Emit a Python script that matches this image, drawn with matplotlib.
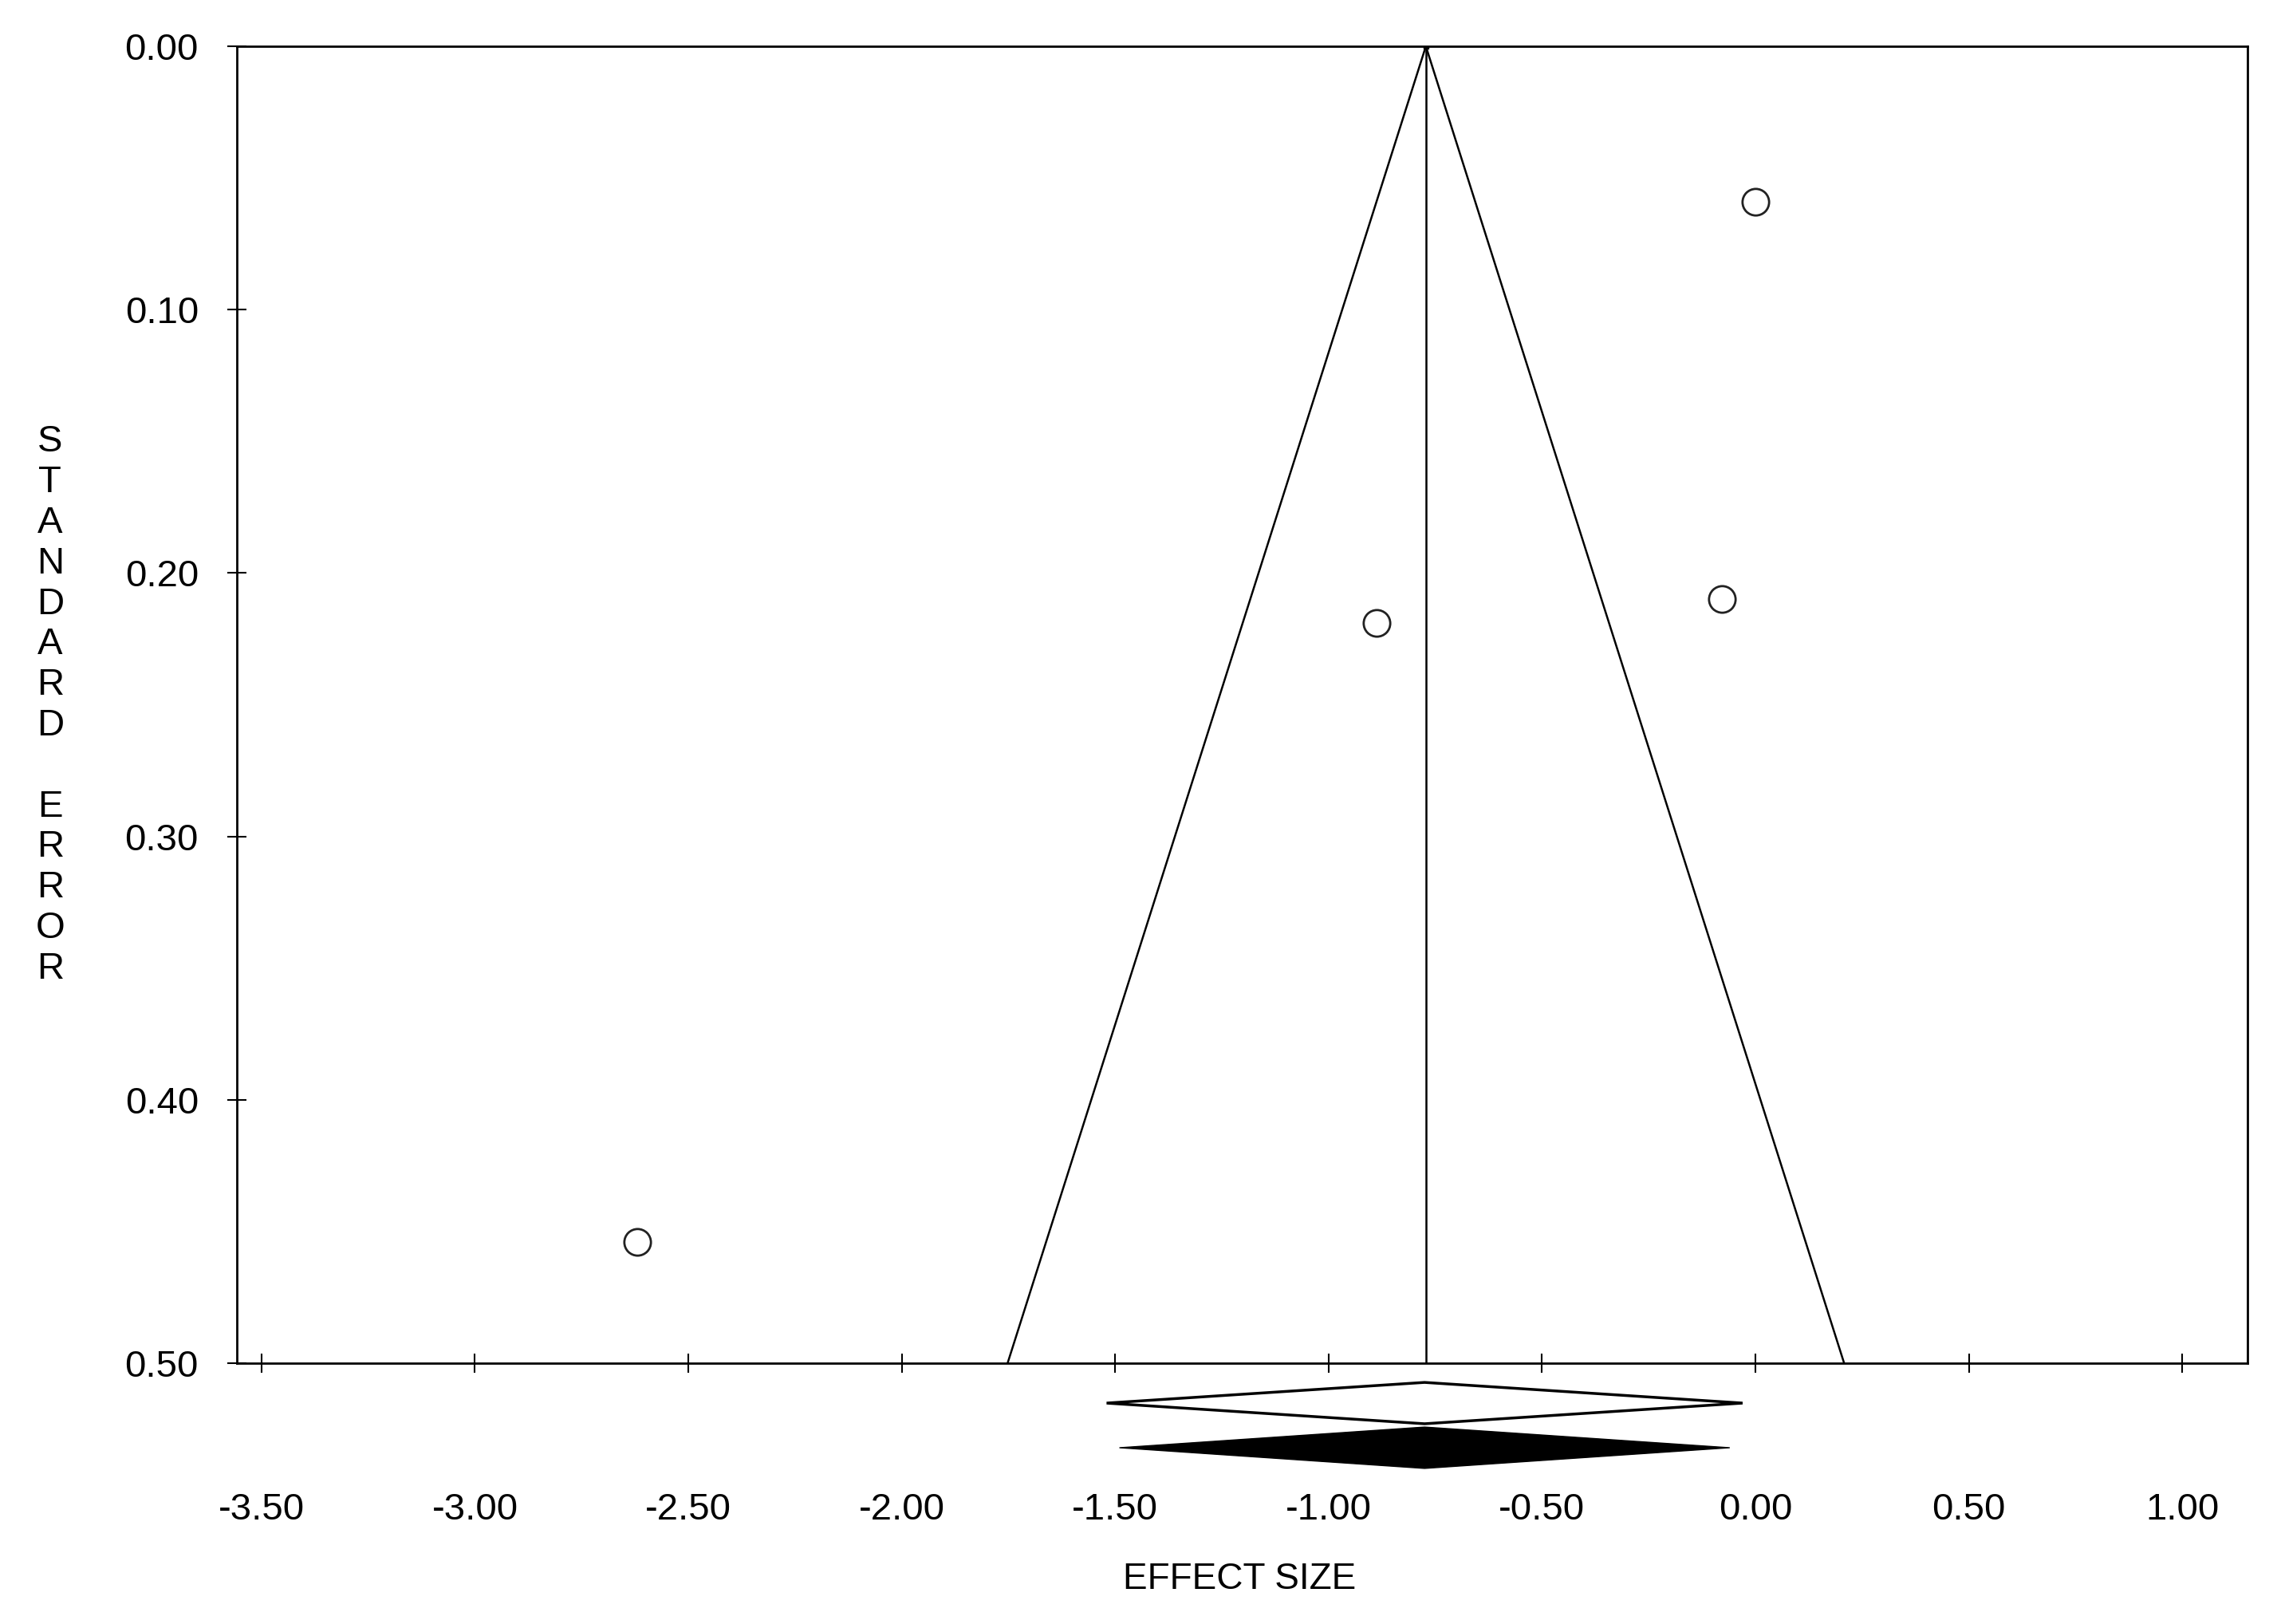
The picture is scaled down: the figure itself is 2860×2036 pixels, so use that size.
import numpy as np
import matplotlib
matplotlib.use("Agg")
import matplotlib.pyplot as plt
import matplotlib.transforms as mtransforms

plt.rcParams['font.family'] = ['Liberation Sans', 'DejaVu Sans']

# study estimates
effect = [0.00, -0.888, -0.079, -2.62]
std_err = [0.059, 0.219, 0.210, 0.454]

# pooled estimate and funnel limits (at SE = 0.50)
pooled = -0.772
funnel_x = [-1.752, -0.772, 0.208]
funnel_se = [0.50, 0.00, 0.50]

# summary diamonds under the axis: left, centre, right
diamond_open = [-1.52, -0.775, -0.03]
diamond_filled = [-1.49, -0.775, -0.06]

xticks = [-3.5, -3.0, -2.5, -2.0, -1.5, -1.0, -0.5, 0.0, 0.5, 1.0]
yticks = [0.0, 0.1, 0.2, 0.3, 0.4, 0.5]

fig = plt.figure(figsize=(28.6, 20.36), dpi=100)
ax = fig.add_axes([0.1038, 0.1606, 0.8815, 0.8109])

lw = 1.8
ax.plot(funnel_x, funnel_se, color='k', lw=lw)
ax.plot([pooled, pooled], [0.0, 0.5], color='k', lw=lw)
ax.plot([pooled], [0.0], marker='s', color='k', ms=4)
ax.plot(effect, std_err, linestyle='none', marker='o', ms=24,
        mfc='white', mec='#222222', mew=2)

ax.set_xlim(-3.558, 1.153)
ax.set_ylim(0.5, 0.0)
ax.set_xticks(xticks)
ax.set_xticklabels(['%.2f' % v for v in xticks])
ax.set_yticks(yticks)
ax.set_yticklabels(['%.2f' % v for v in yticks])

for s in ax.spines.values():
    s.set_linewidth(2)
ax.tick_params(axis='x', direction='inout', length=17, width=1.5,
               labelsize=34, pad=108)
ax.tick_params(axis='y', direction='inout', length=17, width=1.5,
               labelsize=34, pad=26)

# diamonds drawn below the x axis (x in data units, y in axes units)
trans = mtransforms.blended_transform_factory(ax.transData, ax.transAxes)
h = 0.0157
yc = -0.0303
l, c, r = diamond_open
ax.fill([l, c, r, c, l], [yc, yc + h, yc, yc - h, yc], facecolor='white',
        edgecolor='k', lw=2.5, transform=trans, clip_on=False)
yc = -0.0642
l, c, r = diamond_filled
ax.fill([l, c, r, c, l], [yc, yc + h, yc, yc - h, yc], facecolor='k',
        edgecolor='k', lw=1, transform=trans, clip_on=False)

ax.set_xlabel('EFFECT SIZE', fontsize=33)
ax.xaxis.set_label_coords(0.4985, -0.151)

ylab = '\n'.join(list('STANDARD') + [' '] + list('ERROR'))
fig.text(0.022, 0.5655, ylab, fontsize=34, ha='center', va='center',
         linespacing=1.2)

fig.savefig('out.png', dpi=100)
